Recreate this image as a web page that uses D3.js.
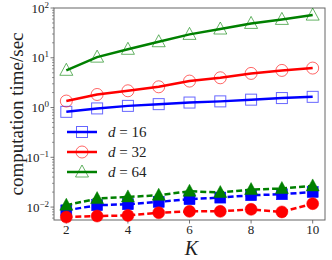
<!DOCTYPE html>
<html>
<head>
<meta charset="utf-8">
<script src="https://cdn.jsdelivr.net/npm/d3@7"></script>
<style>
  body { margin: 0; background: #fff; }
  text { font-family: "Liberation Serif", "DejaVu Serif", serif; fill: #222; }
</style>
</head>
<body>
<div id="chart"></div>
<script>
var K = [2, 3, 4, 5, 6, 7, 8, 9, 10];
var d16 = [0.82, 0.96, 1.08, 1.17, 1.26, 1.33, 1.44, 1.55, 1.64];
var d32 = [1.35, 1.83, 2.17, 2.61, 3.40, 3.96, 4.85, 5.57, 6.21];
var d64 = [5.6, 10.3, 14.8, 21, 29.5, 37.8, 49, 59, 72];
var d16b = [0.0086, 0.0109, 0.0114, 0.0127, 0.0144, 0.0155, 0.0173, 0.0181, 0.0201];
var d32b = [0.0063, 0.0066, 0.0068, 0.0077, 0.0082, 0.0082, 0.0090, 0.0080, 0.0117];
var d64b = [0.0109, 0.0148, 0.016, 0.0173, 0.0208, 0.0196, 0.0225, 0.0236, 0.0266];
var xTicks = [2, 4, 6, 8, 10];
var yTicks = [-2, -1, 0, 1, 2];
var labels = ["16", "32", "64"];

var W = 332, H = 260;
var pLeft = 54, pRight = 325, pTop = 8, pBottom = 220;

var svg = d3.select("#chart").append("svg")
    .attr("width", W)
    .attr("height", H);

var x = d3.scaleLinear().domain([1.6, 10.4]).range([pLeft, pRight]);
var y = d3.scaleLog().domain([0.0055, 100]).range([pBottom, pTop]);

// frame
svg.append("rect")
    .attr("x", pLeft).attr("y", pTop)
    .attr("width", pRight - pLeft).attr("height", pBottom - pTop)
    .attr("fill", "none").attr("stroke", "#666").attr("stroke-width", 1);

// minor y ticks
var minor = [];
for (var e = -3; e < 2; e++) {
    for (var m = 2; m < 10; m++) {
        var v = m * Math.pow(10, e);
        if (v > 0.0055 && v < 100) minor.push(v);
    }
}
svg.selectAll(".minor").data(minor).enter().append("line")
    .attr("x1", pLeft - 2).attr("x2", pLeft)
    .attr("y1", function(d) { return y(d); })
    .attr("y2", function(d) { return y(d); })
    .attr("stroke", "#555").attr("stroke-width", 0.6);

// major y ticks + labels
var yt = svg.selectAll(".ytick").data(yTicks).enter().append("g")
    .attr("transform", function(d) { return "translate(0," + y(Math.pow(10, d)) + ")"; });
yt.append("line").attr("x1", pLeft - 3.5).attr("x2", pLeft)
    .attr("stroke", "#555").attr("stroke-width", 0.8);
var ytx = yt.append("text")
    .attr("x", pLeft - 5).attr("y", 4.5)
    .attr("text-anchor", "end")
    .style("font-size", "13px");
ytx.append("tspan").text("10");
ytx.append("tspan").attr("dy", -5).style("font-size", "9px")
    .text(function(d) { return d < 0 ? "\u2212" + (-d) : d; });

// x ticks
var xt = svg.selectAll(".xtick").data(xTicks).enter().append("g")
    .attr("transform", function(d) { return "translate(" + x(d) + ",0)"; });
xt.append("line").attr("y1", pBottom).attr("y2", pBottom + 3.5)
    .attr("stroke", "#555").attr("stroke-width", 0.8);
xt.append("text").attr("y", pBottom + 14)
    .attr("text-anchor", "middle")
    .style("font-size", "13px")
    .text(function(d) { return d; });

// axis titles
svg.append("text")
    .attr("x", (pLeft + pRight) / 2 + 2).attr("y", 255)
    .attr("text-anchor", "middle")
    .style("font-size", "20px").style("font-style", "italic")
    .text("K");
svg.append("text")
    .attr("transform", "translate(23," + (pTop + pBottom) / 2 + ") rotate(-90)")
    .attr("text-anchor", "middle")
    .style("font-size", "19px")
    .text("computation time/sec");

var series = [
    { vals: d16, col: "#0000ff", shape: "square", dash: null, fill: false },
    { vals: d32, col: "#ff0000", shape: "circle", dash: null, fill: false },
    { vals: d64, col: "#008000", shape: "triangle", dash: null, fill: false },
    { vals: d16b, col: "#0000ff", shape: "square", dash: "6,3", fill: true },
    { vals: d32b, col: "#ff0000", shape: "circle", dash: "6,3", fill: true },
    { vals: d64b, col: "#008000", shape: "triangle", dash: "6,3", fill: true }
];

function marker(g, shape, col, filled) {
    var s;
    if (shape == "square") {
        s = g.append("rect").attr("x", -5.5).attr("y", -5.5).attr("width", 11).attr("height", 11);
    } else if (shape == "circle") {
        s = g.append("circle").attr("r", 6);
    } else {
        s = g.append("path").attr("d", "M0,-7L6.5,5L-6.5,5Z");
    }
    if (filled) {
        s.attr("fill", col).attr("stroke", col).attr("stroke-width", 0.5);
    } else {
        s.attr("fill", "none").attr("stroke", col).attr("stroke-opacity", 0.6).attr("stroke-width", 1);
    }
}

var line = d3.line()
    .x(function(d, i) { return x(K[i]); })
    .y(function(d) { return y(d); });

series.forEach(function(sr) {
    svg.append("path")
        .attr("d", line(sr.vals))
        .attr("fill", "none")
        .attr("stroke", sr.col)
        .attr("stroke-width", 2.5)
        .attr("stroke-dasharray", sr.dash);
    sr.vals.forEach(function(v, i) {
        var g = svg.append("g").attr("transform", "translate(" + x(K[i]) + "," + y(v) + ")");
        marker(g, sr.shape, sr.col, sr.fill);
    });
});

// legend
var lg = svg.append("g");
series.slice(0, 3).forEach(function(sr, i) {
    var ly = 132 + i * 20;
    lg.append("line").attr("x1", 67).attr("x2", 97).attr("y1", ly).attr("y2", ly)
        .attr("stroke", sr.col).attr("stroke-width", 2.5);
    var g = lg.append("g").attr("transform", "translate(82," + ly + ")");
    marker(g, sr.shape, sr.col, false);
    var t = lg.append("text").attr("x", 108).attr("y", ly + 5).style("font-size", "15px");
    t.append("tspan").style("font-style", "italic").text("d");
    t.append("tspan").text(" = " + labels[i]);
});
</script>
</body>
</html>
